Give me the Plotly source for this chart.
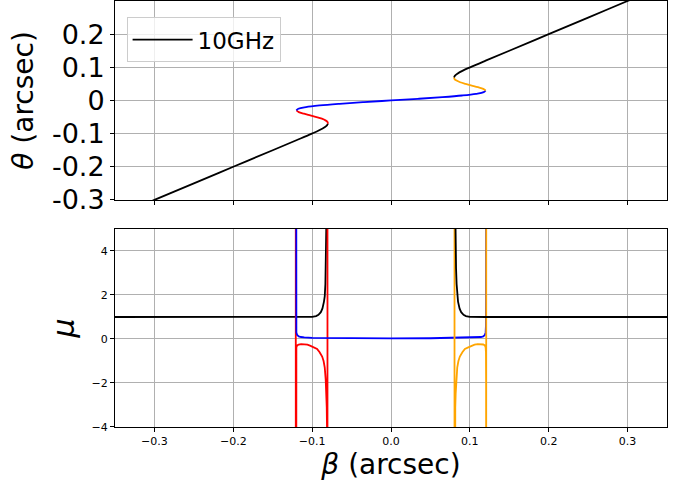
import plotly.graph_objects as go

# ---------------- tick definitions ----------------
beta_ticks = [-0.3, -0.2, -0.1, 0.0, 0.1, 0.2, 0.3]
beta_tick_labels = ["−0.3", "−0.2", "−0.1", "0.0", "0.1", "0.2", "0.3"]
theta_ticks = [-0.3, -0.2, -0.1, 0.0, 0.1, 0.2]
theta_tick_labels = ["-0.3", "-0.2", "-0.1", "0", "0.1", "0.2"]
mu_ticks = [-4, -2, 0, 2, 4]
mu_tick_labels = ["−4", "−2", "0", "2", "4"]

# ---------------- top panel: image position theta(beta) ----------------
outer_left_beta = [-0.35, -0.30, -0.25, -0.20, -0.15, -0.12, -0.1003, -0.0911, -0.0837, -0.0812, -0.0800]
outer_left_theta = [-0.35, -0.30, -0.25, -0.20, -0.15, -0.12, -0.100, -0.090, -0.080, -0.075, -0.070]

red_beta = [-0.0800, -0.0805, -0.0831, -0.0877, -0.0945, -0.1024, -0.1104, -0.1170, -0.1200]
red_theta = [-0.070, -0.065, -0.060, -0.055, -0.050, -0.045, -0.040, -0.035, -0.030]

blue_beta = [-0.1200, -0.1175, -0.1078, -0.0902, -0.0652, -0.0342, 0.0,
             0.0342, 0.0652, 0.0902, 0.1078, 0.1175, 0.1200]
blue_theta = [-0.030, -0.025, -0.020, -0.015, -0.010, -0.005, 0.0,
              0.005, 0.010, 0.015, 0.020, 0.025, 0.030]

orange_beta = [0.1200, 0.1170, 0.1104, 0.1024, 0.0945, 0.0877, 0.0831, 0.0805, 0.0800]
orange_theta = [0.030, 0.035, 0.040, 0.045, 0.050, 0.055, 0.060, 0.065, 0.070]

outer_right_beta = [0.0800, 0.0812, 0.0837, 0.0911, 0.1003, 0.12, 0.15, 0.20, 0.25, 0.30, 0.35]
outer_right_theta = [0.070, 0.075, 0.080, 0.090, 0.100, 0.12, 0.15, 0.20, 0.25, 0.30, 0.35]

# ---------------- bottom panel: magnification mu(beta) ----------------
mu_outer_left_beta = [-0.35, -0.25, -0.15, -0.12, -0.11, -0.10, -0.095, -0.092, -0.089, -0.087,
                      -0.085, -0.0840, -0.0832, -0.0825, -0.0820, -0.0816, -0.0812]
mu_outer_left = [1.0, 1.0, 1.0, 1.0, 1.0, 1.01, 1.04, 1.10, 1.22, 1.38,
                 1.7, 1.95, 2.5, 3.2, 4.0, 5.0, 7.0]

mu_red_beta = [-0.1208, -0.1207, -0.1206, -0.1204, -0.1200, -0.119, -0.117, -0.114, -0.110,
               -0.106, -0.102, -0.098, -0.0937, -0.0905, -0.0873, -0.0855, -0.0840, -0.0828,
               -0.0820, -0.0815, -0.0810, -0.0806, -0.0805]
mu_red = [50, -50, -2.0, -0.6, -0.38, -0.29, -0.25, -0.23, -0.23,
          -0.26, -0.31, -0.38, -0.45, -0.60, -0.80, -1.0, -1.3, -1.86,
          -2.5, -3.1, -4.5, -50, 50]

mu_blue_beta = [-0.1208, -0.1206, -0.1204, -0.1200, -0.119, -0.117, -0.114, -0.110, -0.100,
                -0.080, -0.050, 0.0, 0.050, 0.080, 0.100, 0.110, 0.114, 0.117, 0.119,
                0.1200, 0.1204, 0.1206, 0.1208]
mu_blue = [50, 2.0, 0.6, 0.3, 0.18, 0.12, 0.09, 0.07, 0.055,
           0.045, 0.035, 0.03, 0.035, 0.045, 0.055, 0.07, 0.09, 0.12, 0.18,
           0.3, 0.6, 2.0, 50]

mu_orange_beta = [0.0805, 0.0806, 0.0810, 0.0815, 0.0820, 0.0828, 0.0840, 0.0855, 0.0873,
                  0.0905, 0.0937, 0.098, 0.102, 0.106, 0.110, 0.114, 0.117, 0.119,
                  0.1200, 0.1204, 0.1206, 0.1207, 0.1208]
mu_orange = [50, -50, -4.5, -3.1, -2.5, -1.86, -1.3, -1.0, -0.80,
             -0.60, -0.45, -0.38, -0.31, -0.26, -0.23, -0.23, -0.25, -0.29,
             -0.38, -0.6, -2.0, -50, 50]

mu_outer_right_beta = [0.0812, 0.0816, 0.0820, 0.0825, 0.0832, 0.0840, 0.085, 0.087, 0.089,
                       0.092, 0.095, 0.10, 0.11, 0.12, 0.15, 0.25, 0.35]
mu_outer_right = [7.0, 5.0, 4.0, 3.2, 2.5, 1.95, 1.7, 1.38, 1.22,
                  1.10, 1.04, 1.01, 1.0, 1.0, 1.0, 1.0, 1.0]

BLACK, RED, BLUE, ORANGE = "#000000", "#ff0000", "#0000ff", "#ffa500"
LW = 1.8

fig = go.Figure()

top = [
    (outer_left_beta, outer_left_theta, BLACK, True),
    (red_beta, red_theta, RED, False),
    (blue_beta, blue_theta, BLUE, False),
    (orange_beta, orange_theta, ORANGE, False),
    (outer_right_beta, outer_right_theta, BLACK, False),
]
for bx, ty, col, leg in top:
    fig.add_trace(go.Scatter(x=bx, y=ty, mode="lines", xaxis="x", yaxis="y",
                             line=dict(color=col, width=LW, shape="spline", smoothing=1.0),
                             name="10GHz", showlegend=leg))

bottom = [
    (mu_outer_left_beta, mu_outer_left, BLACK),
    (mu_red_beta, mu_red, RED),
    (mu_blue_beta, mu_blue, BLUE),
    (mu_orange_beta, mu_orange, ORANGE),
    (mu_outer_right_beta, mu_outer_right, BLACK),
]
for bx, my, col in bottom:
    fig.add_trace(go.Scatter(x=bx, y=my, mode="lines", xaxis="x2", yaxis="y2",
                             line=dict(color=col, width=LW), showlegend=False))

FONT = "DejaVu Sans"
GRID = "#b0b0b0"
common_axis = dict(showline=True, linecolor="black", linewidth=1, mirror=True,
                   showgrid=True, gridcolor=GRID, gridwidth=0.8, zeroline=False,
                   ticks="outside", ticklen=4, tickcolor="black", tickwidth=1)

fig.update_layout(
    width=681, height=487,
    margin=dict(l=115, r=14, t=1, b=60),
    plot_bgcolor="white", paper_bgcolor="white",
    font=dict(family=FONT, color="black"),
    showlegend=True,
    legend=dict(x=0.021, y=0.962, xanchor="left", yanchor="top",
                bgcolor="rgba(255,255,255,0.8)", bordercolor="#cccccc", borderwidth=1,
                itemwidth=60, entrywidth=160, entrywidthmode="pixels",
                font=dict(family=FONT, size=23, color="black")),
    xaxis=dict(domain=[0, 1], anchor="y", range=[-0.35, 0.35], matches="x2",
               tickvals=beta_ticks, showticklabels=False, **common_axis),
    yaxis=dict(domain=[0.533, 1.0], anchor="x", range=[-0.3, 0.3],
               tickvals=theta_ticks, ticktext=theta_tick_labels,
               tickfont=dict(family=FONT, size=27),
               title=dict(text="<i>θ</i> (arcsec)", font=dict(family=FONT, size=28), standoff=10),
               **common_axis),
    xaxis2=dict(domain=[0, 1], anchor="y2", range=[-0.35, 0.35],
                tickvals=beta_ticks, ticktext=beta_tick_labels,
                tickfont=dict(family=FONT, size=11),
                title=dict(text="<i>β</i> (arcsec)", font=dict(family=FONT, size=28), standoff=4),
                **common_axis),
    yaxis2=dict(domain=[0.0, 0.4648], anchor="x2", range=[-4, 5],
                tickvals=mu_ticks, ticktext=mu_tick_labels,
                tickfont=dict(family=FONT, size=11),
                title=dict(text="<i>μ</i>", font=dict(family=FONT, size=30), standoff=8),
                **common_axis),
)

fig.write_html("out.html")
